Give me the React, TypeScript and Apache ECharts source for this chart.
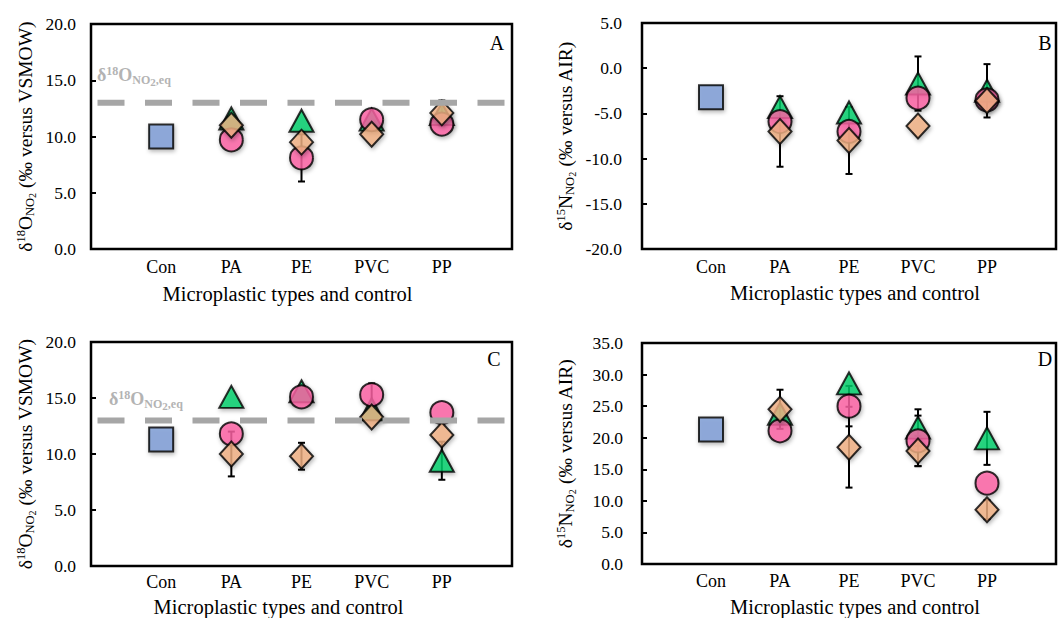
import React, { useEffect, useRef } from "react";
import * as echarts from "echarts";

const CATEGORIES = ["Con", "PA", "PE", "PVC", "PP"];
const X_NAME = "Microplastic types and control";
const EQ_LINE = 13.0;

// Panel A: δ18O (‰ vs VSMOW)
const controlA = 10.0;
const triA = [11.6, 11.4, 11.5, 12.0];
const cirA = [9.7, 8.1, 11.5, 11.1];
const diaA = [11.0, 9.5, 10.2, 12.1];
const triErrA = [0, 0, 0, 0];
const cirErrA = [0, 2.1, 0, 0];
const diaErrA = [0, 0, 0, 1.1];

// Panel B: δ15N (‰ vs AIR)
const controlB = -3.2;
const triB = [-4.3, -4.9, -1.7, -2.5];
const cirB = [-5.9, -7.0, -3.3, -3.5];
const diaB = [-7.0, -8.0, -6.4, -3.6];
const triErrB = [0, 0, 3.0, 2.95];
const cirErrB = [0, 0, 0, 0];
const diaErrB = [3.9, 3.7, 0, 0];

// Panel C: δ18O (‰ vs VSMOW)
const controlC = 11.3;
const triC = [15.1, 15.6, 14.0, 9.4];
const cirC = [11.8, 15.1, 15.3, 13.7];
const diaC = [10.0, 9.8, 13.3, 11.7];
const triErrC = [0, 0, 0, 1.7];
const cirErrC = [0, 0, 1.0, 0];
const diaErrC = [2.0, 1.2, 0, 0];

// Panel D: δ15N (‰ vs AIR)
const controlD = 21.3;
const triD = [23.8, 28.6, 21.6, 19.9];
const cirD = [21.1, 25.0, 19.5, 12.8];
const diaD = [24.5, 18.5, 17.9, 8.6];
const triErrD = [0, 0, 2.9, 4.2];
const cirErrD = [0, 3.2, 4.0, 0];
const diaErrD = [3.1, 6.4, 2.4, 1.5];

const Y_TICKS_O = { min: 0, max: 20, interval: 5 };
const Y_TICKS_B = { min: -20, max: 5, interval: 5 };
const Y_TICKS_D = { min: 0, max: 35, interval: 5 };

const FONT = '"Liberation Serif", "Times New Roman", serif';
const C_SQUARE = "#7d9dd7";
const C_TRI = "#00d16a";
const C_CIR = "#ff62a5";
const C_DIA = "#f3b184";

type PanelData = {
  control: number;
  tri: number[]; cir: number[]; dia: number[];
  triErr: number[]; cirErr: number[]; diaErr: number[];
  ticks: { min: number; max: number; interval: number };
  isoO: boolean;
};

const DATA: PanelData[] = [
  { control: controlA, tri: triA, cir: cirA, dia: diaA, triErr: triErrA, cirErr: cirErrA, diaErr: diaErrA, ticks: Y_TICKS_O, isoO: true },
  { control: controlB, tri: triB, cir: cirB, dia: diaB, triErr: triErrB, cirErr: cirErrB, diaErr: diaErrB, ticks: Y_TICKS_B, isoO: false },
  { control: controlC, tri: triC, cir: cirC, dia: diaC, triErr: triErrC, cirErr: cirErrC, diaErr: diaErrC, ticks: Y_TICKS_O, isoO: true },
  { control: controlD, tri: triD, cir: cirD, dia: diaD, triErr: triErrD, cirErr: cirErrD, diaErr: diaErrD, ticks: Y_TICKS_D, isoO: false },
];

const LAYOUT = [
  { left: 91, top: 24, width: 421, height: 225, labelMargin: 15, yNameGap: 54, xLabelMargin: 9, xNameGap: 34, xNameShift: -14, letter: "A", lx: 497, ly: 43, eqx: 97, eqy: 75 },
  { left: 642, top: 23, width: 423, height: 226, labelMargin: 20, yNameGap: 65, xLabelMargin: 9, xNameGap: 33, xNameShift: 6, letter: "B", lx: 1045, ly: 43, eqx: 0, eqy: 0 },
  { left: 91, top: 342, width: 421, height: 225, labelMargin: 15, yNameGap: 54, xLabelMargin: 7, xNameGap: 30, xNameShift: -23, letter: "C", lx: 494, ly: 359, eqx: 109, eqy: 399 },
  { left: 642, top: 343, width: 423, height: 223, labelMargin: 19, yNameGap: 65, xLabelMargin: 8, xNameGap: 32, xNameShift: 6, letter: "D", lx: 1045, ly: 359, eqx: 0, eqy: 0 },
];

const shadow = {
  shadowBlur: 4,
  shadowColor: "rgba(0,0,0,0.35)",
  shadowOffsetX: 1,
  shadowOffsetY: 2,
};

function yNameRich(isoO: boolean) {
  return isoO
    ? "{m|δ}{sup|18}{m|O}{sub|NO}{sub2|2}{m| (‰ versus VSMOW)}"
    : "{m|δ}{sup|15}{m|N}{sub|NO}{sub2|2}{m| (‰ versus AIR)}";
}

const richName = {
  m: { fontFamily: FONT, fontSize: 19.5, color: "#000", verticalAlign: "middle" },
  sup: { fontFamily: FONT, fontSize: 12.5, color: "#000", verticalAlign: "middle", padding: [0, 0, 10, 0] },
  sub: { fontFamily: FONT, fontSize: 12.5, color: "#000", verticalAlign: "middle", padding: [9, 0, 0, 0] },
  sub2: { fontFamily: FONT, fontSize: 10, color: "#000", verticalAlign: "middle", padding: [13, 0, 0, 0] },
};

function errorItems(vals: number[], errs: number[]) {
  const out: number[][] = [];
  vals.forEach((v, i) => {
    if (errs[i] > 0) out.push([i + 2, v, errs[i]]);
  });
  return out;
}

function renderError(params: any, api: any) {
  const x = api.value(0);
  const y = api.value(1);
  const e = api.value(2);
  const top = api.coord([x, y + e]);
  const bot = api.coord([x, y - e]);
  const st = { stroke: "#000", lineWidth: 2 };
  const cap = 3.5;
  return {
    type: "group",
    children: [
      { type: "line", shape: { x1: top[0], y1: top[1], x2: bot[0], y2: bot[1] }, style: st },
      { type: "line", shape: { x1: top[0] - cap, y1: top[1], x2: top[0] + cap, y2: top[1] }, style: st },
      { type: "line", shape: { x1: bot[0] - cap, y1: bot[1], x2: bot[0] + cap, y2: bot[1] }, style: st },
    ],
  };
}

function buildOption() {
  const grid: any[] = [];
  const xAxis: any[] = [];
  const yAxis: any[] = [];
  const series: any[] = [];
  const graphic: any[] = [];

  DATA.forEach((d, p) => {
    const L = LAYOUT[p];
    grid.push({
      left: L.left, top: L.top, width: L.width, height: L.height,
      show: true, borderColor: "#000", borderWidth: 2.5, backgroundColor: "transparent",
      containLabel: false,
    });
    xAxis.push({
      gridIndex: p, type: "value", min: 0, max: 6, interval: 1,
      axisLine: { show: false }, axisTick: { show: false }, splitLine: { show: false },
      axisLabel: {
        fontFamily: FONT, fontSize: 18, color: "#000", margin: L.xLabelMargin,
        formatter: (v: number) => (v >= 1 && v <= 5 ? CATEGORIES[v - 1] : ""),
      },
      name: X_NAME, nameLocation: "middle", nameGap: L.xNameGap,
      nameTextStyle: {
        fontFamily: FONT, fontSize: 20.5, color: "#000",
        padding: L.xNameShift < 0 ? [0, -2 * L.xNameShift, 0, 0] : [0, 0, 0, 2 * L.xNameShift],
      },
    });
    yAxis.push({
      gridIndex: p, type: "value", min: d.ticks.min, max: d.ticks.max, interval: d.ticks.interval,
      axisLine: { show: false },
      axisTick: { show: true, inside: true, length: 5, lineStyle: { color: "#000", width: 2 } },
      splitLine: { show: false },
      axisLabel: {
        fontFamily: FONT, fontSize: 17.5, color: "#000", margin: L.labelMargin,
        formatter: (v: number) => v.toFixed(1),
      },
      name: yNameRich(d.isoO), nameLocation: "middle", nameRotate: 90, nameGap: L.yNameGap,
      nameTextStyle: { rich: richName },
    });

    const errs = [
      ...errorItems(d.tri, d.triErr),
      ...errorItems(d.cir, d.cirErr),
      ...errorItems(d.dia, d.diaErr),
    ];
    series.push({
      type: "custom", xAxisIndex: p, yAxisIndex: p, renderItem: renderError,
      data: errs, z: 1, clip: false, silent: true,
    });
    series.push({
      type: "scatter", xAxisIndex: p, yAxisIndex: p, symbol: "rect", symbolSize: 24,
      data: [[1, d.control]], z: 2,
      itemStyle: { color: C_SQUARE, borderColor: "#000", borderWidth: 2, ...shadow },
    });
    series.push({
      type: "scatter", xAxisIndex: p, yAxisIndex: p, symbol: "triangle", symbolSize: [24, 22],
      data: d.tri.map((v, i) => [i + 2, v]), z: 3,
      itemStyle: { color: C_TRI, borderColor: "#000", borderWidth: 2, ...shadow },
    });
    series.push({
      type: "scatter", xAxisIndex: p, yAxisIndex: p, symbol: "circle", symbolSize: 23,
      data: d.cir.map((v, i) => [i + 2, v]), z: 4,
      itemStyle: { color: C_CIR, borderColor: "#000", borderWidth: 2, ...shadow },
    });
    series.push({
      type: "scatter", xAxisIndex: p, yAxisIndex: p, symbol: "diamond", symbolSize: [23, 25],
      data: d.dia.map((v, i) => [i + 2, v]), z: 5,
      itemStyle: { color: C_DIA, borderColor: "#000", borderWidth: 2, ...shadow },
    });
    if (d.isoO) {
      series.push({
        type: "line", xAxisIndex: p, yAxisIndex: p, symbol: "none", z: 6, silent: true,
        data: [[0, EQ_LINE], [6, EQ_LINE]],
        lineStyle: { color: "#a6a6a6", width: 6, type: [27, 20.5], dashOffset: 40.5 },
      });
      graphic.push({
        type: "text", x: L.eqx, y: L.eqy, z: 10,
        style: {
          text: "{m|δ}{sup|18}{m|O}{sub|NO}{sub2|2}{sub|,eq}",
          verticalAlign: "middle", align: "left",
          rich: {
            m: { fontFamily: FONT, fontSize: 18, fontWeight: "bold", fill: "#b3b3b3", verticalAlign: "middle" },
            sup: { fontFamily: FONT, fontSize: 12, fontWeight: "bold", fill: "#b3b3b3", verticalAlign: "middle", padding: [0, 0, 9, 0] },
            sub: { fontFamily: FONT, fontSize: 12, fontWeight: "bold", fill: "#b3b3b3", verticalAlign: "middle", padding: [9, 0, 0, 0] },
            sub2: { fontFamily: FONT, fontSize: 11, fontWeight: "bold", fill: "#b3b3b3", verticalAlign: "middle", padding: [13, 0, 0, 0] },
          },
        },
      });
    }
    graphic.push({
      type: "text", x: L.lx, y: L.ly, z: 10,
      style: { text: L.letter, fontFamily: FONT, fontSize: 20, fill: "#000", align: "center", verticalAlign: "middle" },
    });
  });

  return { animation: false, backgroundColor: "#fff", grid, xAxis, yAxis, series, graphic };
}

export default function App() {
  const ref = useRef<HTMLDivElement>(null);
  useEffect(() => {
    if (!ref.current) return;
    const chart = echarts.init(ref.current, undefined, { renderer: "svg" });
    chart.setOption(buildOption() as any);
    return () => chart.dispose();
  }, []);
  return (
    <div
      ref={ref}
      style={{ position: "absolute", left: 0, top: 0, width: 1059, height: 618, background: "#fff" }}
    />
  );
}
